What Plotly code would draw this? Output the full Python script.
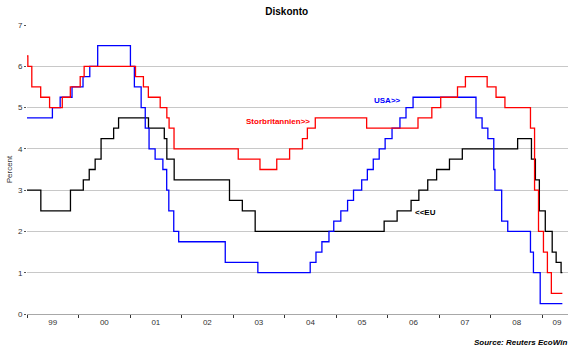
import plotly.graph_objects as go

# ---- data: policy rate change dates and levels ----
usa_dates = ["1999-01-01", "1999-06-30", "1999-08-24", "1999-11-16", "2000-02-02", "2000-03-21",
             "2000-05-16", "2001-01-03", "2001-01-31", "2001-03-20", "2001-04-18", "2001-05-15",
             "2001-06-27", "2001-08-21", "2001-09-17", "2001-10-02", "2001-11-06", "2001-12-11",
             "2002-11-06", "2003-06-25", "2004-06-30", "2004-08-10", "2004-09-21", "2004-11-10",
             "2004-12-14", "2005-02-02", "2005-03-22", "2005-05-03", "2005-06-30", "2005-08-09",
             "2005-09-20", "2005-11-01", "2005-12-13", "2006-01-31", "2006-03-28", "2006-05-10",
             "2006-06-29", "2007-09-18", "2007-10-31", "2007-12-11", "2008-01-22", "2008-01-30",
             "2008-03-18", "2008-04-30", "2008-10-08", "2008-10-29", "2008-12-16", "2009-05-22"]
usa_rates = [4.75, 5.0, 5.25, 5.5, 5.75, 6.0,
             6.5, 6.0, 5.5, 5.0, 4.5, 4.0,
             3.75, 3.5, 3.0, 2.5, 2.0, 1.75,
             1.25, 1.0, 1.25, 1.5, 1.75, 2.0,
             2.25, 2.5, 2.75, 3.0, 3.25, 3.5,
             3.75, 4.0, 4.25, 4.5, 4.75, 5.0,
             5.25, 4.75, 4.5, 4.25, 3.5, 3.0,
             2.25, 2.0, 1.5, 1.0, 0.25, 0.25]

uk_dates = ["1999-01-01", "1999-01-07", "1999-02-04", "1999-04-08", "1999-06-10", "1999-09-08",
            "1999-11-04", "2000-01-13", "2000-02-10", "2001-02-08", "2001-04-05", "2001-05-10",
            "2001-08-02", "2001-09-18", "2001-10-04", "2001-11-08", "2003-02-06", "2003-07-10",
            "2003-11-06", "2004-02-05", "2004-05-06", "2004-06-10", "2004-08-05", "2005-08-04",
            "2006-08-03", "2006-11-09", "2007-01-11", "2007-05-10", "2007-07-05", "2007-12-06",
            "2008-02-07", "2008-04-10", "2008-10-08", "2008-11-06", "2008-12-04", "2009-01-08",
            "2009-02-05", "2009-03-05", "2009-05-22"]
uk_rates = [6.25, 6.0, 5.5, 5.25, 5.0, 5.25,
            5.5, 5.75, 6.0, 5.75, 5.5, 5.25,
            5.0, 4.75, 4.5, 4.0, 3.75, 3.5,
            3.75, 4.0, 4.25, 4.5, 4.75, 4.5,
            4.75, 5.0, 5.25, 5.5, 5.75, 5.5,
            5.25, 5.0, 4.5, 3.0, 2.0, 1.5,
            1.0, 0.5, 0.5]

eu_dates = ["1999-01-01", "1999-04-09", "1999-11-05", "2000-02-04", "2000-03-17", "2000-04-28",
            "2000-06-09", "2000-09-06", "2000-10-11", "2001-05-11", "2001-08-31", "2001-09-18",
            "2001-11-09", "2002-12-06", "2003-03-07", "2003-06-06", "2005-12-06", "2006-03-08",
            "2006-06-15", "2006-08-09", "2006-10-11", "2006-12-13", "2007-03-14", "2007-06-13",
            "2008-07-09", "2008-10-15", "2008-11-12", "2008-12-10", "2009-01-21", "2009-03-11",
            "2009-04-08", "2009-05-13", "2009-05-22"]
eu_rates = [3.0, 2.5, 3.0, 3.25, 3.5, 3.75,
            4.25, 4.5, 4.75, 4.5, 4.25, 3.75,
            3.25, 2.75, 2.5, 2.0, 2.25, 2.5,
            2.75, 3.0, 3.25, 3.5, 3.75, 4.0,
            4.25, 3.75, 3.25, 2.5, 2.0, 1.5,
            1.25, 1.0, 1.0]

year_starts = ["1999-01-01", "2000-01-01", "2001-01-01", "2002-01-01", "2003-01-01", "2004-01-01",
               "2005-01-01", "2006-01-01", "2007-01-01", "2008-01-01", "2009-01-01"]
label_pos = ["1999-07-02", "2000-07-02", "2001-07-02", "2002-07-02", "2003-07-02", "2004-07-02",
             "2005-07-02", "2006-07-02", "2007-07-02", "2008-07-02", "2009-04-14"]
label_text = ["99", "00", "01", "02", "03", "04", "05", "06", "07", "08", "09"]
y_ticks = [0, 1, 2, 3, 4, 5, 6, 7]

FONT = "Liberation Sans, Arial, sans-serif"

fig = go.Figure()
fig.add_trace(go.Scatter(x=eu_dates, y=eu_rates, mode="lines", line_shape="hv",
                         line=dict(color="#000000", width=1.3), name="EU"))
fig.add_trace(go.Scatter(x=usa_dates, y=usa_rates, mode="lines", line_shape="hv",
                         line=dict(color="#0000ff", width=1.3), name="USA"))
fig.add_trace(go.Scatter(x=uk_dates, y=uk_rates, mode="lines", line_shape="hv",
                         line=dict(color="#ff0000", width=1.3), name="Storbritannien"))

fig.update_layout(
    width=570, height=348,
    margin=dict(l=27, r=2, t=25, b=34, autoexpand=False),
    paper_bgcolor="white", plot_bgcolor="white",
    showlegend=False,
    font=dict(family=FONT, size=8, color="#333333"),
    title=dict(text="<b>Diskonto</b>", x=0.503, xanchor="center", y=1 - 11 / 348, yanchor="middle",
               font=dict(family=FONT, size=10, color="#000000")),
    xaxis=dict(
        type="date", range=["1999-01-01", "2009-07-01"], automargin=False,
        tickmode="array", tickvals=label_pos, ticktext=label_text,
        ticks="", showgrid=False, zeroline=False,
        showline=True, linecolor="#a8a8a8", linewidth=1,
        tickfont=dict(size=8, color="#333333"),
        minor=dict(tickmode="array", tickvals=year_starts, ticks="outside", ticklen=3,
                   tickwidth=1, tickcolor="#333333", showgrid=False),
    ),
    yaxis=dict(
        range=[0, 7], tickmode="array", tickvals=y_ticks, automargin=False,
        showgrid=True, gridcolor="#c8c8c8", gridwidth=1, zeroline=False,
        ticks="outside", ticklen=2, tickcolor="#555555",
        tickfont=dict(size=8, color="#333333"),
        title=dict(text="Percent", font=dict(size=8, color="#333333"), standoff=4),
    ),
)

fig.add_annotation(x="2006-01-01", y=5.16, xref="x", yref="y", text="<b>USA>></b>",
                   showarrow=False, font=dict(family=FONT, size=8, color="#0000ff"), xanchor="center")
fig.add_annotation(x="2003-11-15", y=4.66, xref="x", yref="y", text="<b>Storbritannien>></b>",
                   showarrow=False, font=dict(family=FONT, size=8, color="#ff0000"), xanchor="center")
fig.add_annotation(x="2006-09-24", y=2.45, xref="x", yref="y", text="<b><<EU</b>",
                   showarrow=False, font=dict(family=FONT, size=8, color="#000000"), xanchor="center")
fig.add_annotation(x=(569 - 27) / 541, y=(314 - 342) / 289, xref="paper", yref="paper",
                   text="<b><i>Source: Reuters EcoWin</i></b>", showarrow=False,
                   xanchor="right", yanchor="middle",
                   font=dict(family=FONT, size=8, color="#000000"))

fig.write_html("out.html", config={"displayModeBar": False},
               post_script="document.body.style.margin='0';document.body.style.overflow='hidden';")
